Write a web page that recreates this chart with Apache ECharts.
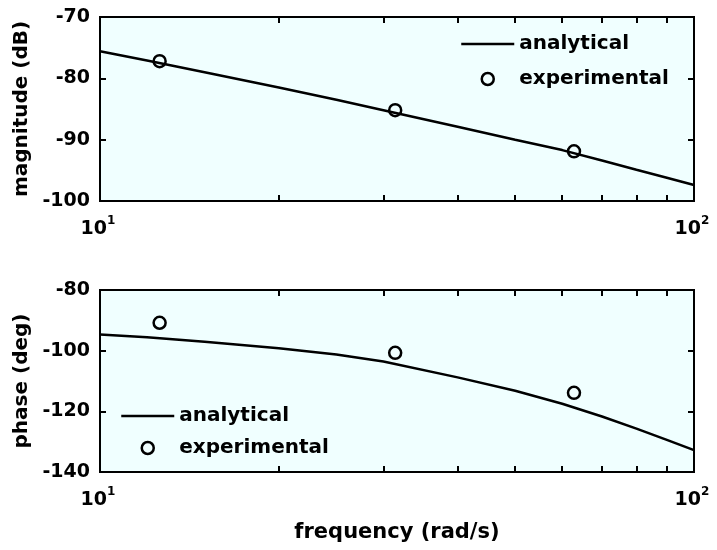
<!DOCTYPE html>
<html>
<head>
<meta charset="utf-8">
<script src="https://cdn.jsdelivr.net/npm/echarts@6/dist/echarts.min.js"></script>
<style>
  html, body { margin: 0; padding: 0; background: #ffffff; }
  #chart { width: 717px; height: 550px; }
</style>
</head>
<body>
<div id="chart"></div>
<script>
// ---- data ----
const freqAnalytical = [10, 12, 15, 20, 25, 30, 40, 50, 60, 70, 80, 90, 100];
const magAnalytical = [-75.6, -77.1, -79.0, -81.5, -83.5, -85.2, -87.9, -90.0, -91.7, -93.4, -94.9, -96.2, -97.4];
const phaseAnalytical = [-94.7, -95.6, -97.1, -99.2, -101.3, -103.6, -108.8, -113.2, -117.5, -121.7, -125.7, -129.4, -132.8];
const freqExperimental = [12.6, 31.4, 62.8];
const magExperimental = [-77.2, -85.2, -91.9];
const phaseExperimental = [-90.8, -100.7, -113.9];
const xMinorTickValues = [20, 30, 40, 50, 60, 70, 80, 90];
const magRange = [-100, -70];
const magStep = 10;
const phaseRange = [-140, -80];
const phaseStep = 20;
const seriesNames = ['analytical', 'experimental'];
const magLabel = 'magnitude (dB)';
const phaseLabel = 'phase (deg)';
const freqLabel = 'frequency (rad/s)';

const FONT = '"DejaVu Sans", sans-serif';
const BG = '#f0ffff';

const pairs = (xs, ys) => xs.map((x, i) => [x, ys[i]]);
const minorLog = xMinorTickValues.map(v => Math.log10(v));

function xAxesFor(gridIndex, name) {
  return [
    {
      gridIndex, type: 'log', logBase: 10, min: 10, max: 100, position: 'bottom',
      name: name || '', nameLocation: 'middle', nameGap: 50,
      nameTextStyle: { fontFamily: FONT, fontWeight: 'bold', fontSize: 21, color: '#000' },
      axisLine: { show: false }, axisTick: { show: false }, splitLine: { show: false },
      axisLabel: {
        margin: 14, padding: [0, 4, 0, 0],
        formatter: v => '{b|10}{s|' + Math.round(Math.log10(v)) + '}',
        rich: {
          b: { fontFamily: FONT, fontWeight: 'bold', fontSize: 19, lineHeight: 24, color: '#000', verticalAlign: 'bottom' },
          s: { fontFamily: FONT, fontWeight: 'bold', fontSize: 12, lineHeight: 12, color: '#000', verticalAlign: 'top' }
        }
      }
    },
    {
      gridIndex, type: 'value', min: 1, max: 2, position: 'bottom',
      axisLine: { show: false }, splitLine: { show: false }, axisLabel: { show: false },
      axisTick: { show: true, inside: true, length: 6, customValues: minorLog, lineStyle: { color: '#000', width: 2 } }
    },
    {
      gridIndex, type: 'value', min: 1, max: 2, position: 'top',
      axisLine: { show: false }, splitLine: { show: false }, axisLabel: { show: false },
      axisTick: { show: true, inside: true, length: 6, customValues: minorLog, lineStyle: { color: '#000', width: 2 } }
    }
  ];
}

function yAxesFor(gridIndex, range, step, name) {
  const common = {
    gridIndex, type: 'value', min: range[0], max: range[1], interval: step,
    axisLine: { show: false }, splitLine: { show: false },
    axisTick: { show: true, inside: true, length: 6, lineStyle: { color: '#000', width: 2 } }
  };
  return [
    Object.assign({}, common, {
      position: 'left', name, nameLocation: 'middle', nameGap: 64,
      nameTextStyle: { fontFamily: FONT, fontWeight: 'bold', fontSize: 20, color: '#000' },
      axisLabel: { margin: 10, fontFamily: FONT, fontWeight: 'bold', fontSize: 19, color: '#000' }
    }),
    Object.assign({}, common, { position: 'right', axisLabel: { show: false } })
  ];
}

const lineSeries = (xi, yi, ys) => ({
  name: seriesNames[0], type: 'line', xAxisIndex: xi, yAxisIndex: yi,
  data: pairs(freqAnalytical, ys), symbol: 'none', showSymbol: false,
  lineStyle: { color: '#000', width: 2.5 }, itemStyle: { color: '#000' }, z: 3
});
const pointSeries = (xi, yi, xs, ys) => ({
  name: seriesNames[1], type: 'scatter', xAxisIndex: xi, yAxisIndex: yi,
  data: pairs(xs, ys), symbol: 'circle', symbolSize: 12,
  itemStyle: { color: 'rgba(0,0,0,0)', borderColor: '#000', borderWidth: 2.5, opacity: 1 }, z: 4
});

const legendText = { fontFamily: FONT, fontWeight: 'bold', fontSize: 20, color: '#000', lineHeight: 22 };
const legendData = [
  { name: seriesNames[0], itemStyle: { color: 'rgba(0,0,0,0)', borderColor: 'rgba(0,0,0,0)', borderWidth: 0 },
    lineStyle: { color: '#000', width: 2.5 } },
  { name: seriesNames[1], icon: 'circle',
    itemStyle: { color: 'rgba(0,0,0,0)', borderColor: '#000', borderWidth: 2.5, opacity: 1 } }
];

const option = {
  animation: false,
  backgroundColor: '#ffffff',
  grid: [
    { left: 100, top: 17, width: 594, height: 184, show: true, backgroundColor: BG, borderColor: '#000', borderWidth: 2 },
    { left: 100, top: 290, width: 594, height: 182, show: true, backgroundColor: BG, borderColor: '#000', borderWidth: 2 }
  ],
  legend: [
    { data: legendData, orient: 'vertical', left: 460, top: 33, padding: 0, itemWidth: 53, itemHeight: 12, itemGap: 13,
      textStyle: legendText, selectedMode: false },
    { data: legendData, orient: 'vertical', left: 120, top: 405, padding: 0, itemWidth: 53, itemHeight: 12, itemGap: 10,
      textStyle: legendText, selectedMode: false }
  ],
  xAxis: [].concat(xAxesFor(0, ''), xAxesFor(1, freqLabel)),
  yAxis: [].concat(yAxesFor(0, magRange, magStep, magLabel), yAxesFor(1, phaseRange, phaseStep, phaseLabel)),
  series: [
    lineSeries(0, 0, magAnalytical),
    pointSeries(0, 0, freqExperimental, magExperimental),
    lineSeries(3, 2, phaseAnalytical),
    pointSeries(3, 2, freqExperimental, phaseExperimental)
  ]
};

const chart = echarts.init(document.getElementById('chart'), null, { renderer: 'canvas' });
chart.setOption(option);
</script>
</body>
</html>
